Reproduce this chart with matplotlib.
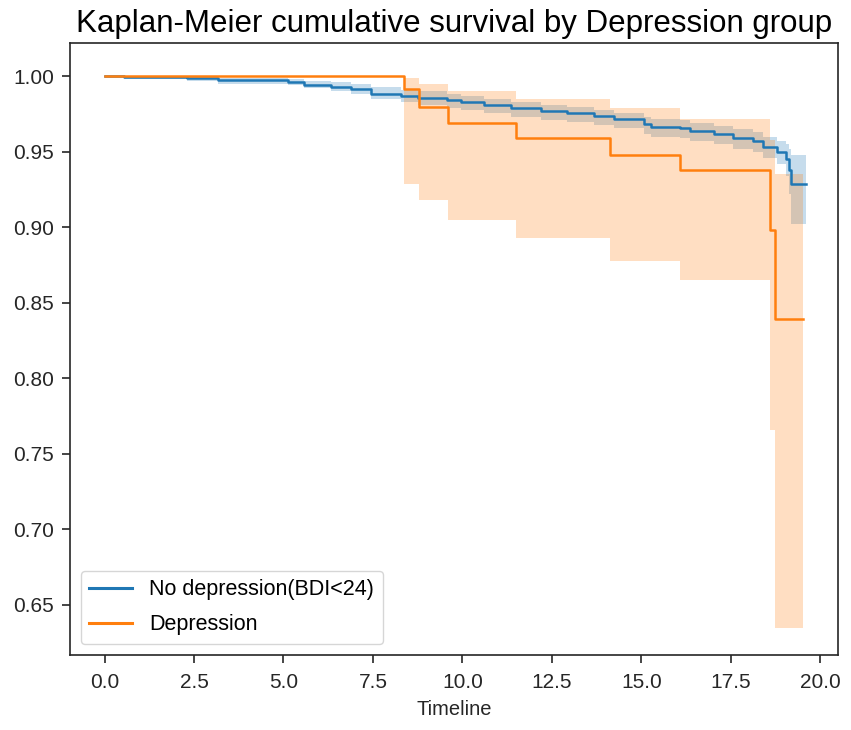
import matplotlib
matplotlib.use("Agg")
import matplotlib.pyplot as plt

# Kaplan-Meier estimates
nodep_t = [0, 0.55, 2.3, 3.17, 5.12, 5.58, 6.33, 6.89, 7.45, 8.28, 8.75, 9.58, 9.96,
           10.6, 11.35, 12.19, 12.93, 13.68, 14.23, 15.06, 15.26, 16.09, 16.37, 17.02,
           17.57, 18.13, 18.41, 18.79, 19.05, 19.12, 19.18, 19.6]
nodep_s = [1.0, 0.9995, 0.9988, 0.9976, 0.9962, 0.9945, 0.993, 0.9914, 0.9886, 0.987,
           0.9857, 0.984, 0.983, 0.981, 0.9787, 0.977, 0.9758, 0.9738, 0.9717, 0.9682,
           0.9666, 0.9655, 0.9638, 0.9616, 0.9594, 0.9572, 0.9534, 0.9501, 0.945, 0.938,
           0.929, 0.929]
nodep_upper = [1.0, 1.0, 0.9997, 0.999, 0.998, 0.997, 0.996, 0.995, 0.993, 0.991, 0.990,
               0.988, 0.987, 0.985, 0.983, 0.981, 0.980, 0.978, 0.976, 0.973, 0.972,
               0.971, 0.969, 0.967, 0.965, 0.963, 0.960, 0.957, 0.955, 0.952, 0.948, 0.948]
nodep_lower = [1.0, 0.998, 0.997, 0.995, 0.994, 0.992, 0.990, 0.988, 0.985, 0.983, 0.981,
               0.979, 0.978, 0.976, 0.973, 0.971, 0.970, 0.968, 0.966, 0.962, 0.960,
               0.959, 0.957, 0.955, 0.952, 0.950, 0.946, 0.942, 0.934, 0.922, 0.902, 0.902]

dep_t = [0, 8.36, 8.78, 9.61, 11.51, 14.11, 16.07, 18.58, 18.73, 19.51]
dep_s = [1.0, 0.9914, 0.980, 0.969, 0.959, 0.948, 0.938, 0.898, 0.839, 0.839]
dep_upper = [1.0, 0.9987, 0.995, 0.990, 0.985, 0.979, 0.972, 0.958, 0.935, 0.935]
dep_lower = [1.0, 0.929, 0.918, 0.905, 0.893, 0.878, 0.865, 0.766, 0.635, 0.635]

labels = ["No depression(BDI<24)", "Depression"]
colors = ["#1f77b4", "#ff7f0e"]

plt.rcParams['font.family'] = ['Liberation Sans', 'DejaVu Sans']

fig = plt.figure(figsize=(8.51, 7.3), dpi=100)
ax = fig.add_axes([0.082, 0.103, 0.903, 0.838])

groups = [(nodep_t, nodep_s, nodep_lower, nodep_upper),
          (dep_t, dep_s, dep_lower, dep_upper)]
for (t, s, lo, hi), lab, c in zip(groups, labels, colors):
    ax.fill_between(t, lo, hi, step='post', color=c, alpha=0.25, linewidth=0)
    ax.plot(t, s, drawstyle='steps-post', color=c, lw=1.8, label=lab)

ax.set_xlim(-0.97, 20.5)
ax.set_ylim(0.617, 1.022)
ax.set_xticks([0, 2.5, 5, 7.5, 10, 12.5, 15, 17.5, 20])
ax.set_xticklabels(["0.0", "2.5", "5.0", "7.5", "10.0", "12.5", "15.0", "17.5", "20.0"])
ax.set_yticks([0.65, 0.70, 0.75, 0.80, 0.85, 0.90, 0.95, 1.00])
ax.set_yticklabels(["0.65", "0.70", "0.75", "0.80", "0.85", "0.90", "0.95", "1.00"])
ax.tick_params(labelsize=15, length=6, width=1.2, colors='#262626')
ax.tick_params(axis='x', pad=7)
ax.tick_params(axis='y', pad=5.5)
for sp in ax.spines.values():
    sp.set_linewidth(1.2)
    sp.set_color('#262626')

ax.set_xlabel("Timeline", fontsize=14.5, color='#262626', labelpad=6)
ax.set_title("Kaplan-Meier cumulative survival by Depression group", fontsize=22.5, pad=8)

leg = ax.legend(loc='lower left', fontsize=15.5, frameon=True, fancybox=True,
                edgecolor='#cccccc', handlelength=2.0, labelspacing=0.65,
                borderaxespad=0.5)
for line in leg.get_lines():
    line.set_linewidth(2.2)

fig.savefig("out.png", dpi=100)
